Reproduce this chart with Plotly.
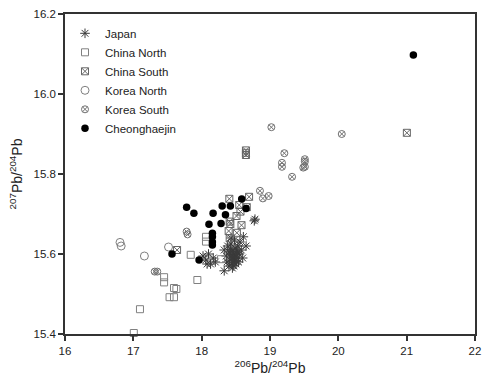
import plotly.graph_objects as go

# ---- data (206Pb/204Pb, 207Pb/204Pb) ----
japan_x = [18.02, 18.06, 18.10, 18.13, 18.17, 18.20, 18.08, 18.33, 18.36, 18.38, 18.40, 18.41,
           18.42, 18.43, 18.44, 18.45, 18.46, 18.47, 18.47, 18.48, 18.49, 18.50, 18.50, 18.51,
           18.52, 18.53, 18.54, 18.55, 18.56, 18.58, 18.60, 18.45, 18.40, 18.37, 18.43, 18.48,
           18.61, 18.78, 18.33, 18.65, 18.77, 18.44, 18.46, 18.49, 18.51, 18.47, 18.53, 18.42]
japan_y = [15.595, 15.585, 15.600, 15.575, 15.590, 15.580, 15.575, 15.610, 15.595, 15.620, 15.605, 15.585,
           15.600, 15.625, 15.575, 15.590, 15.610, 15.570, 15.600, 15.585, 15.615, 15.595, 15.575, 15.605,
           15.590, 15.620, 15.580, 15.600, 15.630, 15.610, 15.590, 15.565, 15.570, 15.580, 15.640, 15.635,
           15.643, 15.687, 15.558, 15.620, 15.683, 15.598, 15.580, 15.590, 15.582, 15.592, 15.605, 15.612]

china_north_x = [17.007, 17.097, 17.45, 17.45, 17.595, 17.63, 17.53, 17.595, 17.84, 17.937, 18.063, 18.063, 18.284]
china_north_y = [15.4025, 15.462, 15.542, 15.529, 15.515, 15.5125, 15.492, 15.492, 15.598, 15.535, 15.643, 15.631, 15.587]

china_south_x = [18.648, 18.648, 18.648, 21.003, 17.64, 18.405, 18.694, 18.55, 18.66, 18.568, 18.51,
                 18.41, 18.42, 18.395, 18.41, 18.515, 18.583]
china_south_y = [15.859, 15.853, 15.8475, 15.903, 15.61, 15.738, 15.743, 15.7225, 15.717, 15.706, 15.695,
                 15.681, 15.675, 15.6575, 15.639, 15.653, 15.672]

korea_north_x = [16.805, 16.822, 17.162, 17.515]
korea_north_y = [15.629, 15.620, 15.595, 15.6175]

korea_south_x = [17.78, 17.794, 17.313, 17.35, 19.02, 20.05, 19.21, 19.175, 19.175, 19.51, 19.51,
                 19.487, 19.51, 19.323, 18.853, 18.896, 18.98]
korea_south_y = [15.656, 15.649, 15.556, 15.556, 15.917, 15.900, 15.852, 15.828, 15.818, 15.837, 15.831,
                 15.816, 15.818, 15.793, 15.758, 15.739, 15.745]

cheong_x = [17.78, 17.886, 18.167, 18.30, 18.42, 18.586, 18.65, 18.348, 18.107, 18.284, 18.157,
            18.157, 18.157, 18.157, 17.566, 17.962, 21.098]
cheong_y = [15.717, 15.702, 15.702, 15.72, 15.72, 15.7375, 15.714, 15.698, 15.6745, 15.676, 15.652,
            15.643, 15.63, 15.6225, 15.60, 15.585, 16.0975]

x_ticks = [16, 17, 18, 19, 20, 21, 22]
y_ticks = [15.4, 15.6, 15.8, 16.0, 16.2]

FONT = "Arial, Liberation Sans, sans-serif"

fig = go.Figure()

def add(name, xs, ys, symbol, color, size, lw=1.0):
    fig.add_trace(go.Scatter(
        x=xs, y=ys, mode="markers", name=name, cliponaxis=False,
        marker=dict(symbol=symbol, size=size, color=color,
                    line=dict(color=color, width=lw)),
    ))

add("Japan", japan_x, japan_y, "asterisk-open", "#3a3a3a", 8, 1.0)
add("China North", china_north_x, china_north_y, "square-open", "#808080", 7, 1.0)
add("China South", china_south_x, china_south_y, "square-x-open", "#666666", 7, 1.0)
add("Korea North", korea_north_x, korea_north_y, "circle-open", "#808080", 8, 1.0)
add("Korea South", korea_south_x, korea_south_y, "circle-x-open", "#707070", 7, 1.0)
add("Cheonghaejin", cheong_x, cheong_y, "circle", "#000000", 7.5, 0)

axis_common = dict(
    showline=True, linecolor="#333333", linewidth=1.5, mirror=True,
    ticks="outside", ticklen=5, tickwidth=1.5, tickcolor="#333333",
    showgrid=False, zeroline=False,
    tickfont=dict(family=FONT, size=11.5, color="#222222"),
)

fig.update_xaxes(range=[16, 22], tickvals=x_ticks, ticktext=[str(v) for v in x_ticks],
                 title=dict(text="<sup>206</sup>Pb/<sup>204</sup>Pb",
                            font=dict(family=FONT, size=14, color="#222222"), standoff=8),
                 **axis_common)
fig.update_yaxes(range=[15.4, 16.2], tickvals=y_ticks, ticktext=["%.1f" % v for v in y_ticks],
                 title=dict(text="<sup>207</sup>Pb/<sup>204</sup>Pb",
                            font=dict(family=FONT, size=14, color="#222222"), standoff=8),
                 **axis_common)

fig.update_layout(
    width=488, height=387,
    margin=dict(l=65, r=7, t=14, b=53),
    paper_bgcolor="white", plot_bgcolor="white",
    showlegend=True,
    legend=dict(x=0.0, y=0.985, xanchor="left", yanchor="top",
                bgcolor="rgba(0,0,0,0)",
                font=dict(family=FONT, size=11.5, color="#222222")),
    font=dict(family=FONT),
)

fig.write_html("out.html")
